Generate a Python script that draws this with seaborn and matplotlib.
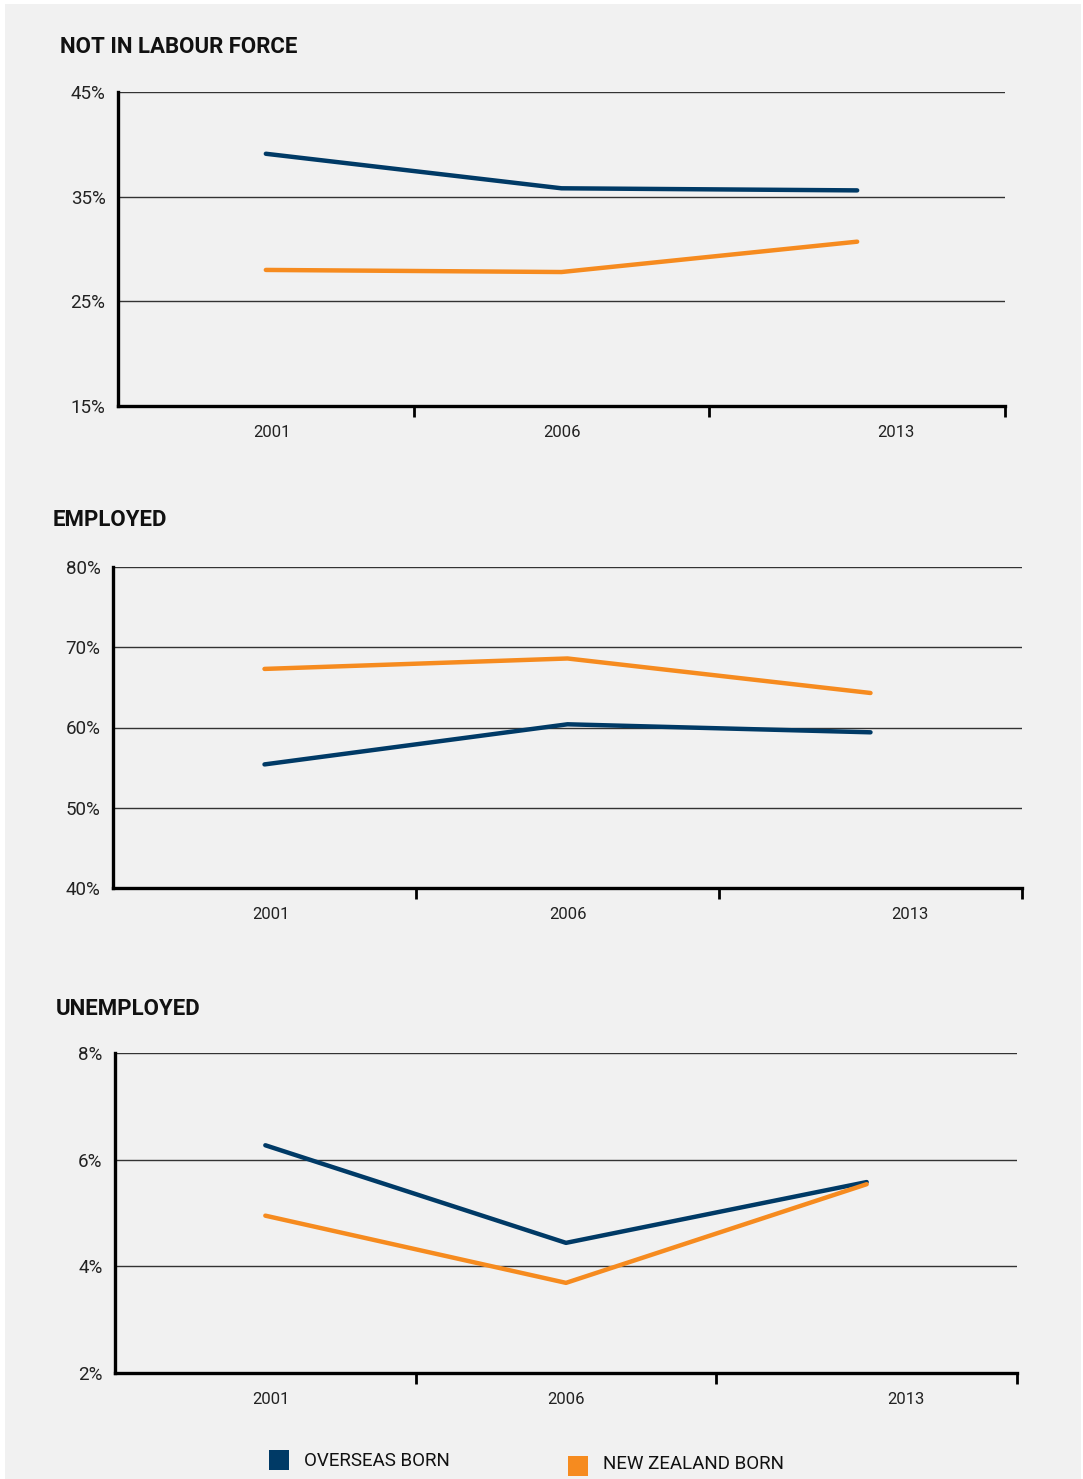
import matplotlib
matplotlib.use("Agg")
import matplotlib.pyplot as plt
import seaborn as sns
import pandas as pd
from matplotlib.patches import Rectangle

# ---- data ----
years = ["2001", "2006", "2013"]
series_names = ["OVERSEAS BORN", "NEW ZEALAND BORN"]

nilf_overseas = [39.1, 35.8, 35.6]
nilf_nz = [28.0, 27.8, 30.7]

emp_overseas = [55.4, 60.4, 59.4]
emp_nz = [67.3, 68.6, 64.3]

unemp_overseas = [6.27, 4.44, 5.58]
unemp_nz = [4.95, 3.69, 5.54]

panel_titles = ["NOT IN LABOUR FORCE", "EMPLOYED", "UNEMPLOYED"]
y_ticks = [[15, 25, 35, 45], [40, 50, 60, 70, 80], [2, 4, 6, 8]]

# ---- styling ----
NAVY = "#003a66"
ORANGE = "#f68b1f"
BG = "#f1f1f1"
palette = {series_names[0]: NAVY, series_names[1]: ORANGE}

sns.set_theme(style="white")
plt.rcParams["font.family"] = ["Roboto", "DejaVu Sans"]

W, H = 1083, 1479
fig = plt.figure(figsize=(W / 100, H / 100), dpi=100, facecolor="white")
fig.patches.append(Rectangle((5 / W, 0), (W - 7) / W, (H - 4) / H,
                             transform=fig.transFigure, facecolor=BG,
                             edgecolor="none", zorder=-10))

def px_rect(left, right, top, bottom):
    return [left / W, 1 - bottom / H, (right - left) / W, (bottom - top) / H]

rects = [px_rect(118, 1005, 92, 406),
         px_rect(113, 1022, 567, 888),
         px_rect(115, 1017, 1053, 1373)]
title_pos = [(60, 47), (53, 520), (56, 1009)]

data_sets = [(nilf_overseas, nilf_nz), (emp_overseas, emp_nz), (unemp_overseas, unemp_nz)]

for i, (rect, (ov, nz)) in enumerate(zip(rects, data_sets)):
    ax = fig.add_axes(rect)
    ax.set_facecolor("none")
    df = pd.DataFrame({
        "year": years * 2,
        "value": ov + nz,
        "series": [series_names[0]] * 3 + [series_names[1]] * 3,
    })
    df["pos"] = df["year"].map({y: k for k, y in enumerate(years)})
    sns.lineplot(data=df, x="pos", y="value", hue="series", palette=palette,
                 linewidth=3.2, ax=ax, legend=False, zorder=5,
                 solid_capstyle="round")
    yt = y_ticks[i]
    ax.set_ylim(yt[0], yt[-1])
    ax.set_xlim(-0.5, 2.5)
    ax.set_yticks(yt)
    ax.set_yticklabels([f"{v}%" for v in yt], fontsize=13.5, color="#222222")
    for v in yt[1:]:
        ax.axhline(v, color="#333333", linewidth=1.0, zorder=1)
    ax.set_xticks([0.02, 1.0, 2.13])
    ax.set_xticklabels(years, fontsize=12, color="#222222")
    ax.tick_params(axis="x", which="major", length=0, pad=14)
    ax.tick_params(axis="y", which="major", length=0, pad=9, left=False)
    ax.set_xticks([0.5, 1.5, 2.5], minor=True)
    ax.tick_params(axis="x", which="minor", bottom=True, length=8, width=2,
                   color="black", direction="out")
    ax.set_xlabel("")
    ax.set_ylabel("")
    for s in ["top", "right"]:
        ax.spines[s].set_visible(False)
    for s in ["left", "bottom"]:
        ax.spines[s].set_visible(True)
        ax.spines[s].set_color("black")
        ax.spines[s].set_linewidth(2.4)
    ax.grid(False)
    tx, ty = title_pos[i]
    fig.text(tx / W, 1 - ty / H, panel_titles[i], fontsize=16, fontweight="bold",
             color="#111111", ha="left", va="center")

# ---- legend ----
leg_items = [(269, 1450, series_names[0], NAVY, 304, 1461),
             (568, 1456, series_names[1], ORANGE, 603, 1464)]
for x0, y0, label, col, tx, ty in leg_items:
    fig.patches.append(Rectangle((x0 / W, 1 - (y0 + 20) / H), 20 / W, 20 / H,
                                 transform=fig.transFigure, facecolor=col,
                                 edgecolor="none"))
    fig.text(tx / W, 1 - ty / H, label, fontsize=13.5, color="#111111",
             ha="left", va="center")

fig.savefig("out.png", dpi=100, facecolor=fig.get_facecolor())
